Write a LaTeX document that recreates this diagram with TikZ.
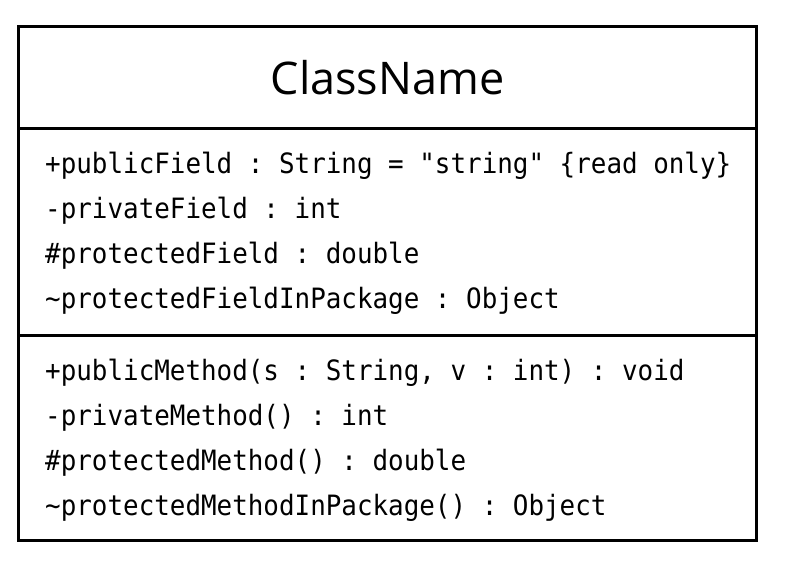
\documentclass[tikz,border=0pt]{standalone}
\usepackage{fontspec}
\newfontfamily\titlef{Open Sans}
\newfontfamily\monof[FakeStretch=0.925]{DejaVu Sans Mono}
\newcommand\memberfont{\monof\fontsize{28}{28}\selectfont\frenchspacing\spaceskip=\fontcharwd\font 97\relax}
\frenchspacing
\begin{document}
\begin{tikzpicture}[x=1pt,y=-1pt,
  umlborder/.style={draw=black, line width=3pt},
  member/.style={anchor=base west, inner sep=0pt, font=\memberfont},
  titletext/.style={anchor=base, inner sep=0pt, font=\titlef\fontsize{45}{45}\selectfont}]
\useasboundingbox (0,0) rectangle (787,571);
\fill[white] (0,0) rectangle (787,571);
\node[umlborder, anchor=north west, minimum width=738pt, minimum height=514pt, inner sep=0pt, outer sep=0pt] (box) at (18.5,26) {};
\coordinate (s1l) at (18.5,128);
\coordinate (s1r) at (756.5,128);
\coordinate (s2l) at (18.5,335);
\coordinate (s2r) at (756.5,335);
\draw[umlborder] (s1l) -- (s1r);
\draw[umlborder] (s2l) -- (s2r);
\node[titletext] (title) at (387.5,94) {ClassName};
\node[member] (f1) at (45,173) {+publicField : String = "string" \{read only\}};
\node[member] (f2) at (45,218) {-privateField : int};
\node[member] (f3) at (45,263) {\#protectedField : double};
\node[member] (f4) at (45,308) {\string~protectedFieldInPackage : Object};
\node[member] (m1) at (45,380) {+publicMethod(s : String, v : int) : void};
\node[member] (m2) at (45,425) {-privateMethod() : int};
\node[member] (m3) at (45,470) {\#protectedMethod() : double};
\node[member] (m4) at (45,515) {\string~protectedMethodInPackage() : Object};
\end{tikzpicture}
\end{document}
